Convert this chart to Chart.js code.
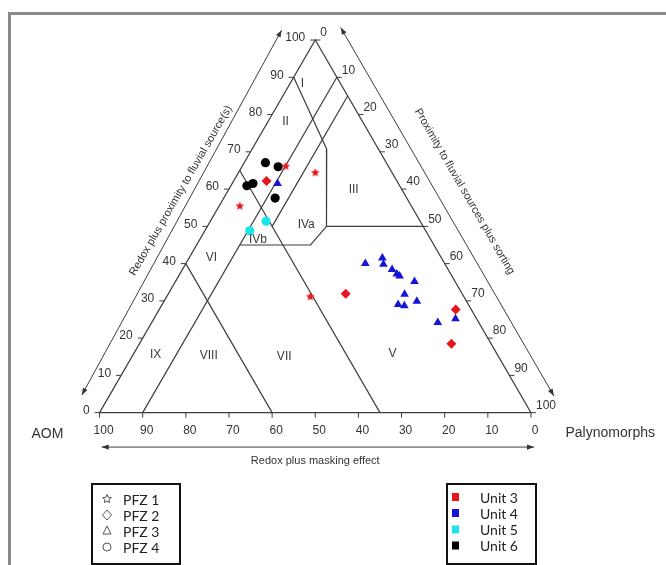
<!DOCTYPE html>
<html>
<head>
<meta charset="utf-8">
<script src="https://cdn.jsdelivr.net/npm/chart.js@4/dist/chart.umd.min.js"></script>
<style>
  html, body { margin: 0; padding: 0; background: #fff; }
  #wrap { position: relative; width: 666px; height: 565px; overflow: hidden; }
  #frame { position: absolute; left: 8px; top: 12px; width: 720px; height: 620px;
           border-left: 3px solid #8a8a8a; border-top: 3px solid #8a8a8a; }
  #c { position: absolute; left: 0; top: 0; }
</style>
</head>
<body>
<div id="wrap"><div id="frame"></div><canvas id="c" width="666" height="565"></canvas></div>
<script>
// Samples as [AOM %, Palynomorphs %, Phytoclasts %]
const unit3Pfz1 = [[23.8, 10.1, 66.1], [17.8, 17.8, 64.4], [39.8, 4.8, 55.4], [35.6, 33.3, 31.1]];
const unit3Pfz2 = [[30.2, 7.6, 62.2], [27.0, 41.1, 31.9], [3.6, 68.7, 27.7], [9.2, 72.3, 18.5]];
const unit4Pfz3 = [[28.0, 10.5, 61.5], [18.4, 41.6, 40.0], [13.7, 44.8, 41.5], [14.3, 45.9, 39.8],
                   [13.0, 48.6, 38.4], [12.5, 50.3, 37.2], [12.1, 51.2, 36.7], [9.4, 55.4, 35.2],
                   [13.4, 54.8, 31.8], [11.5, 58.6, 29.9], [16.3, 54.7, 29.0], [15.0, 56.3, 28.7],
                   [9.5, 66.3, 24.2], [4.9, 69.9, 25.2]];
const unit5Pfz4 = [[35.7, 12.9, 51.4], [40.8, 10.4, 48.8]];
const unit6Pfz4 = [[28.0, 4.9, 67.1], [25.6, 8.4, 66.0], [35.4, 3.7, 60.9], [33.7, 4.8, 61.5], [30.5, 11.9, 57.6]];

// Triangle outline and palynofacies field boundaries (same ternary order)
const outline = [[100, 0, 0], [0, 100, 0], [0, 0, 100], [100, 0, 0]];
const fieldBoundaries = [
  [[90, 10, 0], [0, 10, 90]],
  [[35, 0, 65], [35, 65, 0]],
  [[60, 0, 40], [60, 40, 0]],
  [[0, 15, 85], [35, 15, 50]],
  [[10, 0, 90], [12, 17.3, 70.7], [22.4, 27.6, 50], [0, 50, 50]],
  [[22.4, 27.6, 50], [28.6, 26.4, 45], [45, 10, 45]]
];
const fieldNames = ['I', 'II', 'III', 'IVa', 'IVb', 'V', 'VI', 'VII', 'VIII', 'IX'];
const fieldCentres = [[8.8, 2.8, 88.4], [17.9, 4.1, 78.0], [11.2, 29.0, 59.8], [26.9, 22.7, 50.4],
                      [40.1, 13.5, 46.4], [24.2, 60.0, 15.8], [53.3, 5.1, 41.6], [49.7, 35.3, 15.0],
                      [67.0, 17.6, 15.4], [79.2, 5.2, 15.6]];
const tickValues = [0, 10, 20, 30, 40, 50, 60, 70, 80, 90, 100];
const pfzLabels = ['PFZ 1', 'PFZ 2', 'PFZ 3', 'PFZ 4'];
const unitLabels = ['Unit 3', 'Unit 4', 'Unit 5', 'Unit 6'];
const unitColours = ['#e8151b', '#1515d8', '#1fe3ea', '#000000'];

const H3 = Math.sqrt(3) / 2;
function tern(t) {
  const s = t[0] + t[1] + t[2];
  const p = t[1] / s * 100, h = t[2] / s * 100;
  return { x: p + h / 2, y: h * H3 };
}

function starPath(ctx, cx, cy, ro, ri) {
  ctx.beginPath();
  for (let i = 0; i < 10; i++) {
    const r = i % 2 ? ri : ro;
    const a = -Math.PI / 2 + i * Math.PI / 5;
    const x = cx + r * Math.cos(a), y = cy + r * Math.sin(a);
    if (i === 0) ctx.moveTo(x, y); else ctx.lineTo(x, y);
  }
  ctx.closePath();
}
function filledStar(colour, ro) {
  const c = document.createElement('canvas');
  c.width = c.height = Math.ceil(ro * 2 + 2);
  const g = c.getContext('2d');
  starPath(g, c.width / 2, c.height / 2, ro, ro * 0.45);
  g.fillStyle = colour;
  g.fill();
  return c;
}

const fontSans = '"Liberation Sans", Arial, sans-serif';
const lineColour = '#3d3d3d';

const lineSets = [outline, ...fieldBoundaries].map(seg => ({
  type: 'scatter',
  data: seg.map(tern),
  showLine: true,
  borderColor: lineColour,
  borderWidth: 1.2,
  pointRadius: 0,
  fill: false,
  tension: 0,
  order: 10
}));

function pointSet(rows, colour, style, radius) {
  return {
    type: 'scatter',
    data: rows.map(tern),
    backgroundColor: colour,
    borderColor: colour,
    borderWidth: 0,
    pointStyle: style,
    pointRadius: radius,
    order: 1
  };
}

// Arrow lines beside the three axes (chart value space)
const leftArrow = [{ x: -4.1, y: 4.1 }, { x: 42.2, y: 88.9 }];
const rightArrow = [{ x: 55.9, y: 89.5 }, { x: 105.3, y: 3.9 }];
const bottomArrow = [{ x: 0.5, y: -8.0 }, { x: 100.7, y: -8.0 }];

function arrowHead(ctx, a, b) {
  const ang = Math.atan2(b.y - a.y, b.x - a.x);
  const L = 7, W = 2.6;
  ctx.beginPath();
  ctx.moveTo(b.x, b.y);
  ctx.lineTo(b.x - L * Math.cos(ang) + W * Math.sin(ang), b.y - L * Math.sin(ang) - W * Math.cos(ang));
  ctx.lineTo(b.x - L * Math.cos(ang) - W * Math.sin(ang), b.y - L * Math.sin(ang) + W * Math.cos(ang));
  ctx.closePath();
  ctx.fill();
}

const ternaryDecor = {
  id: 'ternaryDecor',
  afterDatasetsDraw(chart) {
    const ctx = chart.ctx, sx = chart.scales.x, sy = chart.scales.y;
    const px = v => ({ x: sx.getPixelForValue(v.x), y: sy.getPixelForValue(v.y) });
    ctx.save();
    ctx.strokeStyle = lineColour;
    ctx.fillStyle = '#333';
    ctx.lineWidth = 1;
    ctx.font = '12px ' + fontSans;

    tickValues.forEach(t => {
      // bottom axis: AOM
      let p = px(tern([t, 100 - t, 0]));
      ctx.beginPath(); ctx.moveTo(p.x, p.y); ctx.lineTo(p.x, p.y + 5); ctx.stroke();
      ctx.textAlign = 'center'; ctx.textBaseline = 'middle';
      ctx.fillText(String(t), p.x + 4, p.y + 18);
      // left axis: phytoclasts
      p = px(tern([100 - t, 0, t]));
      ctx.beginPath(); ctx.moveTo(p.x - 5, p.y); ctx.lineTo(p.x, p.y); ctx.stroke();
      ctx.textAlign = 'right';
      ctx.fillText(String(t), p.x - 10, p.y - 2);
      // right axis: palynomorphs
      p = px(tern([0, t, 100 - t]));
      ctx.beginPath(); ctx.moveTo(p.x, p.y); ctx.lineTo(p.x + 5, p.y); ctx.stroke();
      ctx.textAlign = 'left';
      ctx.fillText(String(t), p.x + 5, p.y - 7);
    });

    // arrows
    ctx.fillStyle = '#333';
    [leftArrow, rightArrow, bottomArrow].forEach(ar => {
      const a = px(ar[0]), b = px(ar[1]);
      ctx.beginPath(); ctx.moveTo(a.x, a.y); ctx.lineTo(b.x, b.y); ctx.stroke();
      arrowHead(ctx, a, b);
      arrowHead(ctx, b, a);
    });

    // field labels
    ctx.fillStyle = '#3a3a3a';
    ctx.font = '12px ' + fontSans;
    ctx.textAlign = 'center'; ctx.textBaseline = 'middle';
    fieldNames.forEach((n, i) => {
      const p = px(tern(fieldCentres[i]));
      ctx.fillText(n, p.x, p.y);
    });

    // axis titles
    ctx.fillStyle = '#333';
    ctx.font = '11px ' + fontSans;
    let c = px({ x: 18.84, y: 51.6 });
    ctx.save(); ctx.translate(c.x, c.y); ctx.rotate(-Math.PI / 3);
    ctx.fillText('Redox plus proximity to fluvial source(s)', 0, 0); ctx.restore();
    c = px({ x: 84.6, y: 51.4 });
    ctx.save(); ctx.translate(c.x, c.y); ctx.rotate(Math.PI / 3);
    ctx.fillText('Proximity to fluvial sources plus sorting', 0, 0); ctx.restore();
    c = px({ x: 50.0, y: -11.3 });
    ctx.fillText('Redox plus masking effect', c.x, c.y);

    ctx.font = '14px ' + fontSans;
    c = px({ x: -12.1, y: -5.0 });
    ctx.fillText('AOM', c.x, c.y);
    c = px({ x: 108.0, y: -4.8 });
    ctx.textAlign = 'left';
    ctx.fillText('Palynomorphs', c.x, c.y);

    // legend boxes
    ctx.strokeStyle = '#111';
    ctx.lineWidth = 2;
    ctx.strokeRect(92, 484, 88, 80);
    ctx.strokeRect(447, 484, 89, 80);

    ctx.font = '14px Lato, ' + fontSans;
    ctx.fillStyle = '#222';
    ctx.textAlign = 'left';
    const rowsL = [499, 515, 531, 547];
    pfzLabels.forEach((t, i) => ctx.fillText(t, 123, rowsL[i] + 1));
    const rowsR = [497, 513, 529.5, 545.5];
    unitLabels.forEach((t, i) => {
      ctx.fillStyle = unitColours[i];
      ctx.fillRect(452, rowsR[i] - 4, 7, 8);
      ctx.fillStyle = '#222';
      ctx.fillText(t, 480, rowsR[i] + 1);
    });

    // PFZ symbols (outlined)
    ctx.strokeStyle = '#555';
    ctx.lineWidth = 1;
    starPath(ctx, 107, rowsL[0], 4.5, 2.1); ctx.stroke();
    ctx.beginPath();
    ctx.moveTo(107, rowsL[1] - 5); ctx.lineTo(111.5, rowsL[1]); ctx.lineTo(107, rowsL[1] + 5); ctx.lineTo(102.5, rowsL[1]);
    ctx.closePath(); ctx.stroke();
    ctx.beginPath();
    ctx.moveTo(107, rowsL[2] - 5); ctx.lineTo(111, rowsL[2] + 3); ctx.lineTo(103, rowsL[2] + 3);
    ctx.closePath(); ctx.stroke();
    ctx.beginPath(); ctx.arc(107, rowsL[3], 4, 0, Math.PI * 2); ctx.stroke();

    ctx.restore();
  }
};

const pxPerUnit = 4.38;
const originX = 96, originY = 415;

new Chart(document.getElementById('c'), {
  type: 'scatter',
  data: {
    datasets: [
      ...lineSets,
      pointSet(unit3Pfz1, unitColours[0], filledStar(unitColours[0], 4.6), 4.5),
      pointSet(unit3Pfz2, unitColours[0], 'rectRot', 5),
      pointSet(unit4Pfz3, unitColours[1], 'triangle', 5),
      pointSet(unit5Pfz4, unitColours[2], 'circle', 4.6),
      pointSet(unit6Pfz4, unitColours[3], 'circle', 4.6)
    ]
  },
  options: {
    responsive: false,
    animation: false,
    devicePixelRatio: 1,
    events: [],
    layout: { padding: 0 },
    plugins: { legend: { display: false }, tooltip: { enabled: false } },
    scales: {
      x: { type: 'linear', display: false, min: -originX / pxPerUnit, max: (666 - originX) / pxPerUnit },
      y: { type: 'linear', display: false, min: -(565 - originY) / pxPerUnit, max: originY / pxPerUnit }
    }
  },
  plugins: [ternaryDecor]
});
</script>
</body>
</html>
